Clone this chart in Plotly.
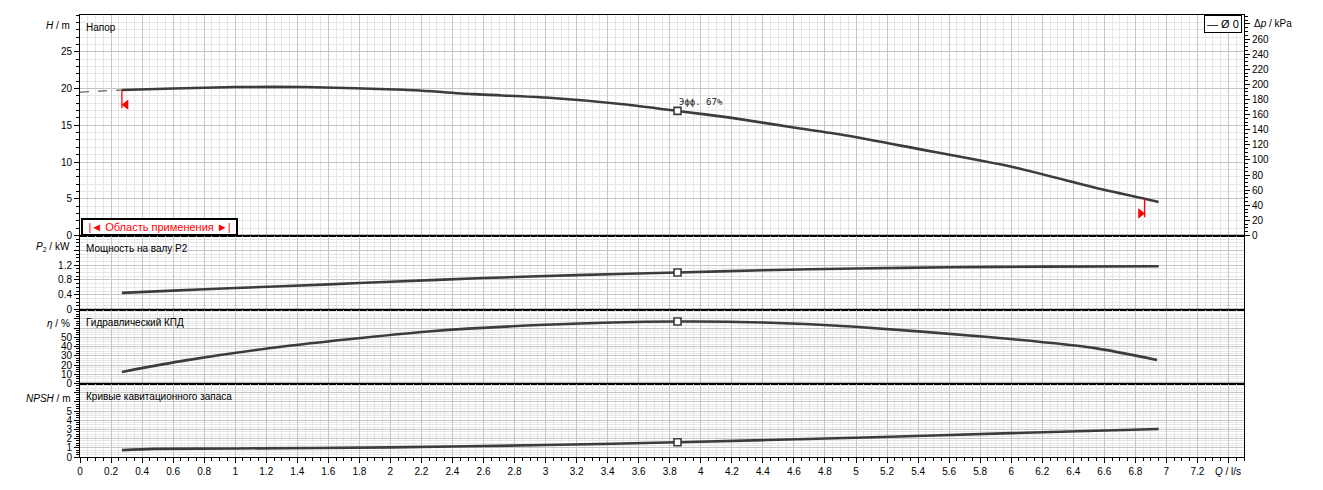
import numpy as np
import plotly.graph_objects as go
from plotly.subplots import make_subplots

# ---------------- data ----------------
Q_H = [0.27, 0.6, 1.0, 1.45, 2.09, 2.54, 3.0, 3.5, 3.85, 4.2, 4.64, 4.94, 5.39, 6.01, 6.57, 6.86, 6.95]
H = [19.8, 20.0, 20.2, 20.2, 19.82, 19.23, 18.77, 17.86, 16.95, 16.0, 14.55, 13.6, 11.82, 9.32, 6.36, 5.0, 4.55]
Q_EXT = [0.0, 0.27]
H_EXT = [19.5, 19.8]

Q_P = [0.27, 0.6, 1.0, 1.6, 2.0, 2.6, 3.2, 3.85, 4.4, 5.0, 5.6, 6.2, 6.95]
P2 = [0.45, 0.51, 0.58, 0.68, 0.75, 0.85, 0.93, 1.0, 1.06, 1.11, 1.14, 1.16, 1.17]

Q_E = [0.27, 0.68, 1.36, 2.26, 3.0, 3.84, 4.4, 4.97, 5.87, 6.55, 6.94]
ETA = [12.5, 25, 41, 56.5, 63.5, 67, 66, 61.6, 50, 38, 25.5]

Q_N = [0.27, 0.47, 1.0, 2.0, 3.0, 3.85, 5.0, 6.0, 6.95]
NPSH = [0.75, 0.88, 0.93, 1.05, 1.3, 1.6, 2.1, 2.6, 3.05]

Q_OP = 3.85
ETA_OP_LABEL = "Эфф. 67%"
RANGE_Q = [0.27, 6.86]
RANGE_LOW_H = [17.3, 2.5]

X_TICKS = [round(0.2 * i, 1) for i in range(38)]
X_LABELS = [f"{v:g}" for v in X_TICKS[:-1]] + [""]
H_TICKS = [0, 5, 10, 15, 20, 25]
P_TICKS = [0, 0.4, 0.8, 1.2, 1.6]
P_LABELS = ["0", "0.4", "0.8", "1.2", ""]
E_TICKS = [0, 10, 20, 30, 40, 50, 60, 70]
E_LABELS = ["0", "10", "20", "30", "40", "50", "", ""]
N_TICKS = [0, 1, 2, 3, 4, 5, 6, 7]
N_LABELS = ["0", "1", "2", "3", "4", "5", "", ""]
DP_TICKS = list(range(0, 281, 20))
DP_LABELS = [str(v) for v in DP_TICKS[:-1]] + [""]
RHO_G = 9.73  # kPa per m

PANEL_TITLES = ["Напор", "Мощность на валу P2", "Гидравлический КПД", "Кривые кавитационного запаса"]
AXIS_TITLES = ["<i>H</i> / m", "<i>P</i><sub>2</sub> / kW", "<i>η</i> / %", "<i>NPSH</i> / m"]

# ---------------- style ----------------
LINE = "#3c3c3c"
MAJ = "#c6c6c6"
MIN = "#e6e6e6"
FONT = "Liberation Sans"

fig = make_subplots(rows=4, cols=1, shared_xaxes=True, vertical_spacing=0,
                    row_heights=[220.5, 74, 74, 73.5],
                    specs=[[{"secondary_y": True}], [{}], [{}], [{}]])

curve = dict(color=LINE, width=2.6, shape="spline", smoothing=0.6)

fig.add_trace(go.Scatter(x=Q_EXT, y=H_EXT, mode="lines",
                         line=dict(color=LINE, width=1, dash="dash"), hoverinfo="skip"), row=1, col=1)
fig.add_trace(go.Scatter(x=Q_H, y=H, mode="lines", line=curve), row=1, col=1)
fig.add_trace(go.Scatter(x=Q_P, y=P2, mode="lines", line=curve), row=2, col=1)
fig.add_trace(go.Scatter(x=Q_E, y=ETA, mode="lines", line=curve), row=3, col=1)
fig.add_trace(go.Scatter(x=Q_N, y=NPSH, mode="lines", line=curve), row=4, col=1)

# operating point markers
for r, (qq, yy) in enumerate([(Q_H, H), (Q_P, P2), (Q_E, ETA), (Q_N, NPSH)], start=1):
    yv = float(np.interp(Q_OP, qq, yy))
    fig.add_trace(go.Scatter(x=[Q_OP], y=[yv], mode="markers",
                             marker=dict(symbol="square", size=7, color="white",
                                         line=dict(color=LINE, width=1.6))), row=r, col=1)
    if r == 1:
        fig.add_annotation(x=Q_OP, y=yv, xref="x", yref="y", text=ETA_OP_LABEL,
                           showarrow=False, xanchor="left", yanchor="bottom",
                           xshift=-1, yshift=2,
                           font=dict(family="DejaVu Sans Mono", size=9, color="#222"))

# operating range limits (red)
h_lo = float(np.interp(RANGE_Q[0], Q_H, H))
h_hi = float(np.interp(RANGE_Q[1], Q_H, H))
fig.add_trace(go.Scatter(x=[RANGE_Q[0], RANGE_Q[0]], y=[h_lo, RANGE_LOW_H[0]], mode="lines",
                         line=dict(color="red", width=1.3)), row=1, col=1)
fig.add_trace(go.Scatter(x=[RANGE_Q[1], RANGE_Q[1]], y=[h_hi, RANGE_LOW_H[1]], mode="lines",
                         line=dict(color="red", width=1.3)), row=1, col=1)
fig.add_trace(go.Scatter(x=[RANGE_Q[0] + 0.027], y=[RANGE_LOW_H[0] + 0.5], mode="markers",
                         marker=dict(symbol="triangle-left", size=9, color="red")), row=1, col=1)
fig.add_trace(go.Scatter(x=[RANGE_Q[1] - 0.027], y=[RANGE_LOW_H[1] + 0.5], mode="markers",
                         marker=dict(symbol="triangle-right", size=9, color="red")), row=1, col=1)

# dp secondary axis dummy
fig.add_trace(go.Scatter(x=[None], y=[None], mode="lines", hoverinfo="skip"),
              row=1, col=1, secondary_y=True)

tickfont = dict(family=FONT, size=10, color="black")

for r in range(1, 5):
    bottom = (r == 4)
    fig.update_xaxes(row=r, col=1, domain=[0, 1], range=[0, 7.5],
                     tickvals=X_TICKS, ticktext=X_LABELS,
                     showgrid=True, gridcolor=MAJ, gridwidth=1,
                     showline=True, linecolor="black", linewidth=1, mirror=(r == 1),
                     zeroline=False, tickfont=tickfont,
                     ticks="outside" if bottom else "", ticklen=5 if bottom else 0,
                     tickcolor="black", showticklabels=bottom,
                     minor=dict(dtick=0.05, tick0=0, showgrid=True, gridcolor=MIN,
                                ticks="outside" if bottom else "",
                                ticklen=3 if bottom else 0, tickcolor="black"))

yspecs = [
    (1, [0, 30], H_TICKS, [str(v) for v in H_TICKS], 1),
    (2, [0, 2], P_TICKS, P_LABELS, 0.1),
    (3, [0, 80], E_TICKS, E_LABELS, 2.5),
    (4, [0, 8], N_TICKS, N_LABELS, 0.25),
]
for r, rng, tv, tt, mdt in yspecs:
    fig.update_yaxes(row=r, col=1, secondary_y=False, range=rng, tickvals=tv, ticktext=tt,
                     showgrid=True, gridcolor=MAJ, gridwidth=1, zeroline=False,
                     showline=True, linecolor="black", linewidth=1, mirror=True,
                     ticks="outside", ticklen=5, tickcolor="black", tickfont=tickfont,
                     minor=dict(dtick=mdt, tick0=0, showgrid=True, gridcolor=MIN,
                                ticks="outside", ticklen=3, tickcolor="black"))

fig.update_yaxes(row=1, col=1, secondary_y=True, range=[0, 30 * RHO_G],
                 tickvals=DP_TICKS, ticktext=DP_LABELS, showgrid=False, zeroline=False,
                 showline=True, linecolor="black", linewidth=1,
                 ticks="outside", ticklen=5, tickcolor="black", tickfont=tickfont,
                 minor=dict(dtick=5, tick0=0, ticks="outside", ticklen=3,
                            tickcolor="black", showgrid=False))

# panel separators drawn as solid lines
for yd in ["y domain", "y3 domain", "y4 domain"]:
    fig.add_shape(type="line", xref="paper", x0=0, x1=1, yref=yd, y0=0, y1=0,
                  line=dict(color="black", width=1.5), layer="above")

# panel titles and axis titles
yrefs = ["y domain", "y3 domain", "y4 domain", "y5 domain"]
title_shift = [-5, -5, -5, -5]
axis_shift = [-3, -3, -6, -7]
for i in range(4):
    fig.add_annotation(x=0, xref="paper", y=1, yref=yrefs[i], text=PANEL_TITLES[i],
                       showarrow=False, xanchor="left", yanchor="top", xshift=4,
                       yshift=title_shift[i], font=dict(family=FONT, size=10, color="black"))
    fig.add_annotation(x=0, xref="paper", y=1, yref=yrefs[i], text=AXIS_TITLES[i],
                       showarrow=False, xanchor="right", yanchor="top", xshift=-8,
                       yshift=axis_shift[i], font=dict(family=FONT, size=10, color="black"))

fig.add_annotation(x=1, xref="paper", y=0, yref="paper", text="<i>Q</i> / l/s",
                   showarrow=False, xanchor="right", yanchor="top", xshift=-1, yshift=-7,
                   font=dict(family=FONT, size=10, color="black"))
fig.add_annotation(x=1, xref="paper", y=1, yref="paper", text="Δ<i>p</i> / kPa",
                   showarrow=False, xanchor="left", yanchor="top", xshift=8, yshift=-1,
                   font=dict(family=FONT, size=10, color="black"))

# legend box
fig.add_annotation(x=1, xref="paper", y=1, yref="paper", text="— Ø 0",
                   showarrow=False, xanchor="right", yanchor="top", xshift=-2, yshift=0,
                   bordercolor="black", borderwidth=1, borderpad=2, bgcolor="white",
                   font=dict(family=FONT, size=11, color="black"))

# application range box
fig.add_annotation(x=0, xref="x", y=0, yref="y", text="|◄ Область применения ►|",
                   showarrow=False, xanchor="left", yanchor="bottom", xshift=1,
                   bordercolor="black", borderwidth=2, borderpad=1, bgcolor="white",
                   width=151, align="center",
                   font=dict(family=FONT, size=11, color="red"))

fig.update_layout(width=1323, height=490, showlegend=False,
                  margin=dict(l=80, r=79, t=15, b=33, autoexpand=False),
                  paper_bgcolor="white", plot_bgcolor="white",
                  font=dict(family=FONT, size=10, color="black"))

fig.write_html("out.html", config={"displayModeBar": False},
               post_script="document.body.style.margin='0';document.body.style.overflow='hidden';")
